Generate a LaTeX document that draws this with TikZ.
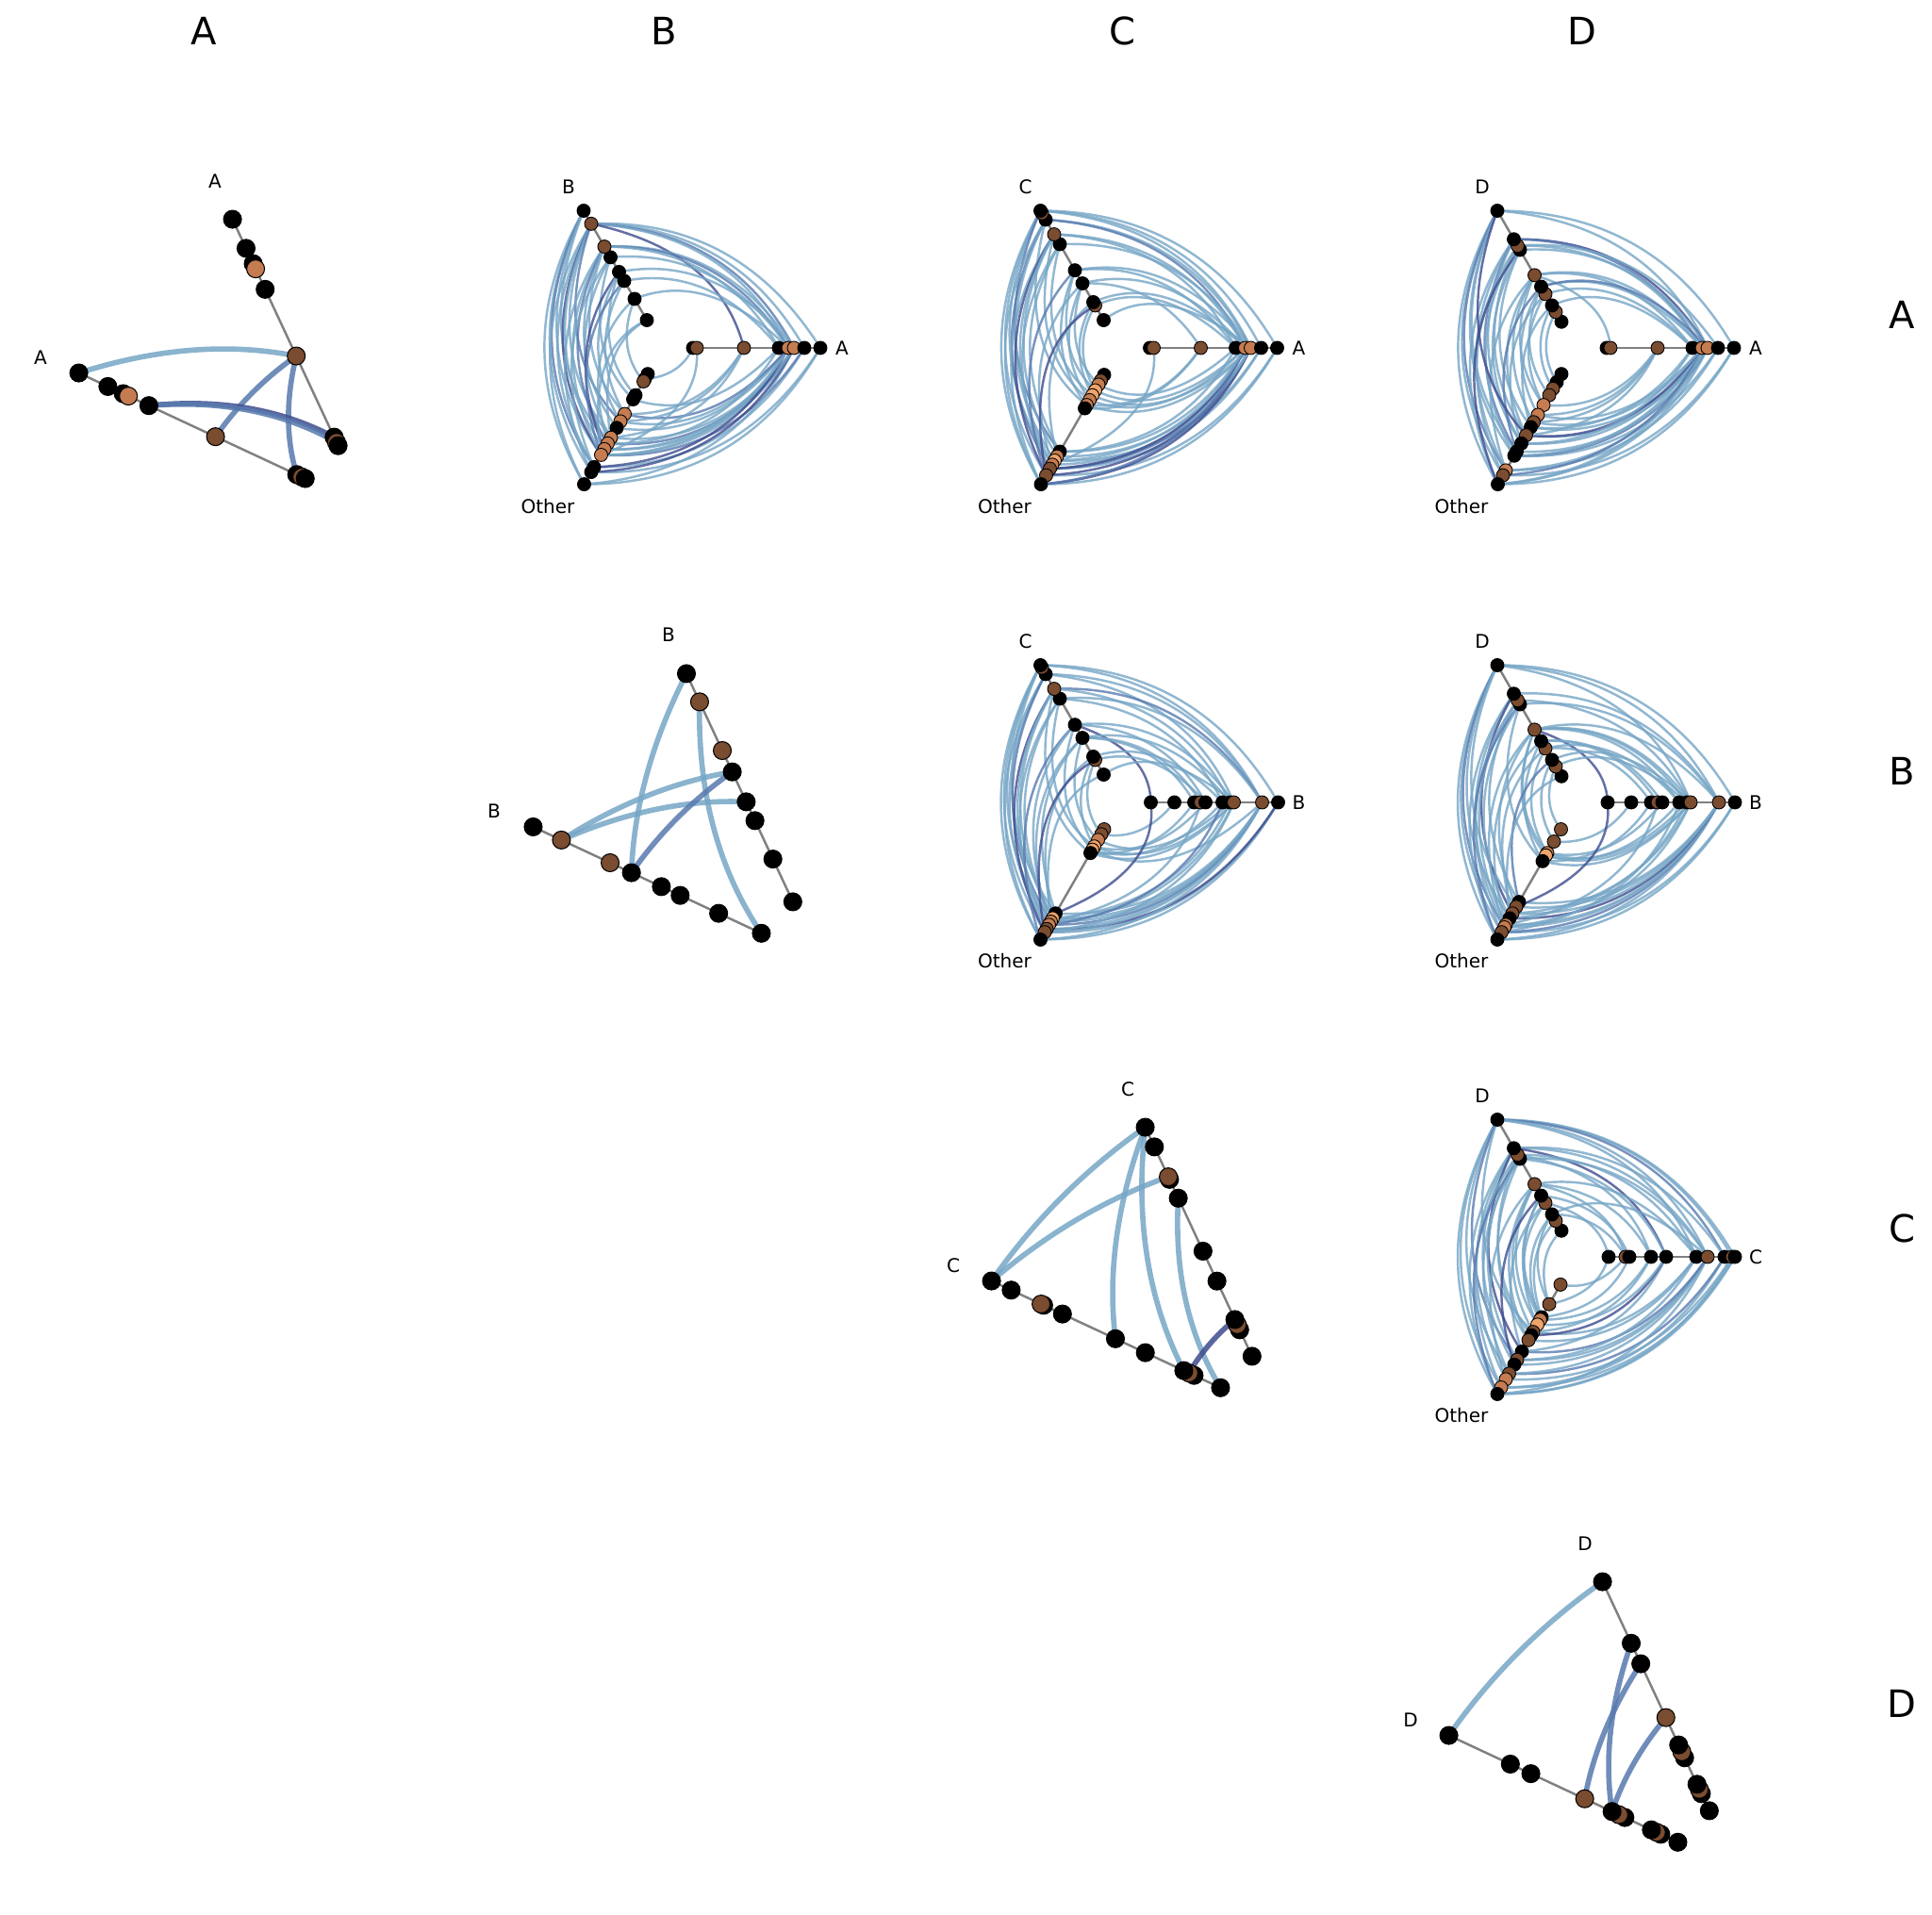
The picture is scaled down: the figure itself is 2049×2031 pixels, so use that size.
\documentclass[tikz,border=0pt]{standalone}
\usepackage{fontspec}
\setmainfont{DejaVu Sans}
\usetikzlibrary{calc}
\pgfdeclarelayer{bg}
\pgfdeclarelayer{axes}
\pgfdeclarelayer{edges}
\pgfsetlayers{bg,axes,edges,main}
\definecolor{kk}{RGB}{0,0,0}
\definecolor{bb}{RGB}{122,76,48}
\definecolor{oo}{RGB}{196,124,80}
\definecolor{ll}{RGB}{238,164,106}
\definecolor{eL}{RGB}{118,166,198}
\definecolor{eM}{RGB}{88,122,175}
\definecolor{eD}{RGB}{62,76,142}
\definecolor{axg}{RGB}{128,128,128}
\tikzset{
  hn/.style={circle,draw=black,line width=0.25pt,minimum size=1.4mm,inner sep=0pt},
  dn/.style={circle,draw=black,line width=0.3pt,minimum size=1.9mm,inner sep=0pt},
  axl/.style={draw=axg,line width=0.7pt},
  e1/.style={draw=eL,line width=0.7pt,draw opacity=0.8},
  e2/.style={draw=eM,line width=0.7pt,draw opacity=0.8},
  e3/.style={draw=eD,line width=0.7pt,draw opacity=0.8},
  d1/.style={draw=eL,line width=1.6pt,draw opacity=0.85},
  d2/.style={draw=eM,line width=1.6pt,draw opacity=0.85},
  d3/.style={draw=eD,line width=1.6pt,draw opacity=0.85},
  lab/.style={font=\fontsize{5.7}{6.5}\selectfont,inner sep=0pt},
  big/.style={font=\fontsize{11.4}{13}\selectfont,inner sep=0pt}
}
% hive edge: quadratic curve, control point at mean angle / mean radius
\newcommand\hedge[4]{%
  \pgfpointdiff{\pgfpointanchor{#2}{center}}{\pgfpointanchor{#3}{center}}%
  \pgfgetlastxy{\hxa}{\hya}%
  \pgfpointdiff{\pgfpointanchor{#2}{center}}{\pgfpointanchor{#4}{center}}%
  \pgfgetlastxy{\hxb}{\hyb}%
  \pgfmathsetmacro\hra{veclen(\hxa,\hya)}%
  \pgfmathsetmacro\hrb{veclen(\hxb,\hyb)}%
  \pgfmathsetmacro\hta{atan2(\hya,\hxa)}%
  \pgfmathsetmacro\htb{atan2(\hyb,\hxb)}%
  \pgfmathsetmacro\htm{\hta+(mod(\htb-\hta+540,360)-180)/2}%
  \pgfmathsetmacro\hrm{(\hra+\hrb)/2}%
  \pgfmathsetmacro\hcx{\hrm*cos(\htm)}%
  \pgfmathsetmacro\hcy{\hrm*sin(\htm)}%
  \pgfmathsetmacro\hax{(\hxa+2*\hcx)/3}%
  \pgfmathsetmacro\hay{(\hya+2*\hcy)/3}%
  \pgfmathsetmacro\hbx{(\hxb+2*\hcx)/3}%
  \pgfmathsetmacro\hby{(\hyb+2*\hcy)/3}%
  \draw[#1] (#3.center) .. controls ([shift={(\hax pt,\hay pt)}]#2) and ([shift={(\hbx pt,\hby pt)}]#2) .. (#4.center);%
}
\newcommand\hiveaxis[7]{%
  \coordinate (#1#2-in) at ($(#1)+(#3:#4)$);
  \coordinate (#1#2-out) at ($(#1)+(#3:#5)$);
  \begin{pgfonlayer}{axes}\draw[axl] (#1#2-in) -- (#1#2-out);\end{pgfonlayer}
  \foreach \rad/\col [count=\i] in #7 {\node[#6,fill=\col] (#1#2-\i) at ($(#1)+(#3:\rad)$) {};}
}
\newcommand\hiveedges[2]{%
  \begin{pgfonlayer}{edges}
  \foreach \u/\v/\s in #2 {\hedge{\s}{#1}{#1\u}{#1\v}}
  \end{pgfonlayer}
}
\newcommand\tripanel[8]{%
  \coordinate (#1) at (#2,#3);
  \hiveaxis{#1}{0}{0}{33}{168}{hn}{#6}
  \hiveaxis{#1}{1}{120}{33}{168}{hn}{#7}
  \hiveaxis{#1}{2}{240}{33}{168}{hn}{#8}
  \node[lab] (#1-L0) at ($(#1)+(190,0)$) {#4};
  \node[lab] (#1-L1) at ($(#1)+(-100,171)$) {#5};
  \node[lab] (#1-L2) at ($(#1)+(-122,-168)$) {Other};
}
\newcommand\dipanel[5]{%
  \coordinate (#1) at (#2,#3);
  \hiveaxis{#1}{t}{115}{69}{337}{dn}{#5}
  \hiveaxis{#1}{l}{155}{69}{337}{dn}{#5}
  \node[lab] (#1-Lt) at ($(#1)+(-161,346)$) {#4};
  \node[lab] (#1-Ll) at ($(#1)+(-346,159)$) {#4};
}
% node lists (radius/colour), inner to outer
\def\Alist{32/kk,36/bb,86/bb,123/kk,133/oo,139/oo,150/kk,167/kk}
\def\Blist{33/kk,58/kk,79/kk,86/bb,91/kk,109/kk,117/kk,121/bb,151/bb,168/kk}
\def\Clist{34/kk,52/bb,56/kk,79/kk,95/kk,127/kk,139/bb,157/kk,165/bb,168/kk}
\def\Dlist{32/kk,44/bb,52/kk,66/bb,75/kk,89/bb,120/kk,125/bb,133/kk,168/kk}
\def\ABb{34/kk,60/kk,82/kk,93/kk,111/kk,124/bb,152/bb,168/kk}
\def\ABo{32/kk,38/kk,41/bb,58/kk,63/kk,81/oo,90/oo,98/kk,110/oo,117/oo,124/oo,131/oo,146/kk,152/kk,167/kk}
\def\ACo{33/kk,40/bb,45/oo,52/ll,58/ll,64/oo,70/oo,74/kk,127/kk,133/oo,138/ll,143/oo,148/bb,156/bb,167/kk}
\def\ADo{32/kk,42/kk,50/bb,58/bb,70/oo,82/oo,91/bb,97/kk,107/bb,117/kk,127/kk,132/kk,150/oo,156/bb,167/kk}
\def\BCo{33/bb,39/bb,46/oo,54/ll,58/ll,62/kk,136/kk,142/ll,146/oo,150/oo,155/bb,159/bb,168/kk}
\def\BDo{33/bb,48/bb,62/oo,65/ll,72/kk,122/kk,128/bb,136/bb,142/kk,150/oo,153/oo,159/bb,168/kk}
\def\CDo{34/bb,58/bb,74/kk,77/oo,83/ll,92/bb,96/kk,102/bb,116/kk,126/bb,132/kk,143/bb,150/oo,160/oo,168/kk}
\def\AAn{82/kk,76/bb,72/kk,177/bb,255/kk,285/kk,279/oo,303/kk,337/kk}
\def\BBn{69/kk,119/kk,164/kk,186/kk,221/kk,246/bb,303/bb,336/kk}
\def\CCn{69/kk,100/kk,106/bb,112/kk,157/kk,192/kk,254/kk,276/kk,279/bb,314/kk,337/kk}
\def\DDn{69/kk,89/kk,94/bb,100/kk,131/kk,138/bb,146/kk,178/bb,241/kk,265/kk,337/kk}
% edge lists
\def\ABe{%
1-8/2-15/e1,1-8/2-14/e1,1-8/2-13/e2,1-8/2-12/e1,1-8/2-10/e1,%
1-7/2-15/e1,1-7/2-13/e1,1-7/2-12/e3,1-7/2-11/e1,1-7/2-9/e1,1-7/2-7/e2,%
1-6/2-14/e1,1-6/2-12/e1,1-6/2-10/e2,1-6/2-8/e1,1-6/2-6/e1,%
1-5/2-13/e1,1-5/2-9/e1,1-5/2-5/e1,1-4/2-11/e3,1-4/2-7/e1,1-4/2-4/e1,%
1-3/2-12/e2,1-3/2-6/e1,1-2/2-10/e1,1-2/2-3/e1,1-1/2-12/e1,1-1/2-9/e1,%
1-7/0-8/e1,1-7/0-7/e1,1-7/0-6/e2,1-7/0-5/e1,1-7/0-3/e3,1-6/0-6/e1,1-6/0-5/e2,1-6/0-4/e1,%
1-5/0-5/e1,1-4/0-6/e1,1-3/0-4/e1,1-2/0-5/e1,%
0-8/2-15/e1,0-8/2-14/e1,0-7/2-13/e1,0-7/2-12/e2,0-6/2-15/e1,0-6/2-14/e3,0-6/2-12/e1,%
0-6/2-11/e1,0-6/2-10/e2,0-6/2-9/e1,0-5/2-13/e3,0-5/2-12/e1,0-5/2-11/e1,0-5/2-8/e1,%
0-5/2-7/e1,0-5/2-6/e2,0-4/2-10/e1,0-4/2-5/e1,0-3/2-7/e1,0-3/2-9/e1,0-3/2-6/e1,%
0-2/2-12/e1,0-1/2-2/e1}
\def\ACe{%
1-10/2-15/e1,1-10/2-14/e1,1-10/2-12/e1,1-10/2-9/e2,1-8/2-15/e1,1-8/2-13/e2,1-8/2-11/e1,%
1-8/2-7/e1,1-7/2-15/e1,1-7/2-14/e3,1-7/2-12/e1,1-7/2-10/e1,1-7/2-6/e1,1-6/2-13/e1,%
1-6/2-9/e1,1-6/2-5/e1,1-5/2-14/e2,1-5/2-7/e1,1-5/2-4/e1,1-4/2-12/e1,1-4/2-6/e1,%
1-4/2-3/e1,1-3/2-10/e1,1-3/2-5/e1,1-2/2-4/e1,1-2/2-14/e3,%
1-10/0-8/e1,1-10/0-7/e1,1-10/0-6/e1,1-8/0-6/e1,1-8/0-5/e2,1-7/0-5/e1,1-7/0-4/e1,%
1-6/0-6/e1,1-5/0-4/e1,1-5/0-6/e1,1-4/0-3/e1,1-4/0-5/e1,1-3/0-5/e1,1-2/0-4/e1,1-1/0-6/e1,%
0-8/2-15/e1,0-8/2-14/e1,0-7/2-13/e1,0-7/2-11/e1,0-6/2-15/e3,0-6/2-14/e3,0-6/2-13/e2,%
0-6/2-12/e1,0-6/2-10/e1,0-6/2-7/e1,0-6/2-5/e1,0-5/2-15/e2,0-5/2-13/e3,0-5/2-11/e1,%
0-5/2-9/e1,0-5/2-6/e1,0-5/2-4/e1,0-4/2-9/e1,0-4/2-3/e1,0-3/2-8/e1,0-3/2-7/e1,0-2/2-12/e1}
\def\ADe{%
1-10/2-15/e1,1-10/2-14/e1,1-10/2-13/e2,1-10/2-12/e1,1-10/2-11/e1,1-9/2-15/e1,1-9/2-13/e1,%
1-9/2-11/e2,1-9/2-10/e1,1-8/2-14/e1,1-8/2-12/e1,1-8/2-9/e1,1-7/2-15/e3,1-7/2-10/e1,%
1-7/2-8/e1,1-6/2-13/e1,1-6/2-9/e1,1-6/2-7/e1,1-6/2-5/e1,1-5/2-11/e2,1-5/2-6/e1,%
1-5/2-4/e1,1-4/2-10/e1,1-4/2-5/e1,1-3/2-3/e1,1-3/2-8/e1,1-2/2-2/e1,1-10/2-9/e3,%
1-10/0-6/e1,1-10/0-8/e1,1-9/0-6/e3,1-9/0-5/e2,1-8/0-5/e1,1-8/0-7/e1,1-7/0-6/e1,%
1-6/0-5/e1,1-6/0-4/e1,1-6/0-2/e1,1-5/0-5/e1,1-5/0-6/e2,1-4/0-4/e1,1-3/0-4/e1,%
0-8/2-15/e1,0-8/2-14/e1,0-7/2-13/e1,0-7/2-12/e1,0-6/2-15/e1,0-6/2-13/e1,0-6/2-12/e2,%
0-6/2-11/e1,0-6/2-9/e1,0-6/2-8/e1,0-5/2-15/e1,0-5/2-14/e2,0-5/2-12/e1,0-5/2-10/e1,%
0-5/2-9/e3,0-5/2-7/e1,0-5/2-6/e1,0-4/2-10/e1,0-4/2-8/e1,0-3/2-9/e1,0-3/2-7/e1,%
0-3/2-6/e1,0-3/2-5/e1}
\def\BCe{%
1-10/2-13/e1,1-10/2-12/e1,1-10/2-10/e1,1-10/2-7/e1,1-8/2-13/e1,1-8/2-11/e1,1-8/2-9/e2,%
1-7/2-12/e3,1-7/2-10/e1,1-7/2-8/e1,1-7/2-6/e1,1-6/2-11/e1,1-6/2-8/e1,1-6/2-4/e1,%
1-5/2-13/e2,1-5/2-9/e1,1-5/2-5/e1,1-4/2-10/e1,1-4/2-7/e1,1-4/2-3/e1,1-3/2-8/e1,%
1-3/2-4/e1,1-2/2-2/e1,1-1/2-9/e1,1-2/2-12/e3,%
1-10/0-10/e1,1-10/0-9/e1,1-8/0-9/e1,1-8/0-8/e1,1-7/0-9/e2,1-7/0-7/e1,1-6/0-9/e1,%
1-6/0-6/e1,1-5/0-8/e1,1-5/0-5/e1,1-5/0-1/e3,1-4/0-7/e1,1-4/0-4/e1,1-4/0-3/e1,%
1-3/0-6/e1,1-2/0-5/e1,1-1/0-8/e1,%
0-10/2-13/e1,0-10/2-12/e1,0-10/2-11/e3,0-9/2-13/e1,0-9/2-12/e1,0-9/2-11/e1,0-9/2-10/e2,%
0-9/2-9/e1,0-9/2-8/e1,0-9/2-7/e1,0-9/2-5/e1,0-8/2-12/e1,0-8/2-9/e1,0-8/2-6/e1,%
0-8/2-4/e1,0-7/2-8/e1,0-7/2-3/e1,0-6/2-10/e2,0-6/2-5/e1,0-5/2-4/e1,0-4/2-9/e1,%
0-3/2-6/e1,0-2/2-2/e1,0-1/2-7/e3}
\def\BDe{%
1-10/2-13/e1,1-10/2-12/e1,1-10/2-11/e2,1-10/2-9/e1,1-10/2-7/e1,1-9/2-13/e1,1-9/2-11/e1,%
1-9/2-8/e3,1-8/2-12/e1,1-8/2-10/e1,1-8/2-6/e1,1-7/2-13/e2,1-7/2-9/e1,1-7/2-5/e1,%
1-6/2-11/e1,1-6/2-7/e1,1-6/2-4/e1,1-6/2-3/e1,1-5/2-10/e1,1-5/2-5/e1,1-4/2-8/e1,%
1-4/2-3/e1,1-3/2-6/e2,1-3/2-2/e1,1-2/2-1/e1,1-1/2-9/e1,%
1-10/0-10/e1,1-10/0-9/e1,1-10/0-8/e1,1-9/0-9/e1,1-8/0-8/e1,1-7/0-9/e1,1-6/0-9/e1,%
1-6/0-8/e1,1-6/0-7/e1,1-6/0-6/e1,1-6/0-1/e3,1-5/0-5/e1,1-5/0-4/e1,1-4/0-6/e1,%
1-4/0-3/e1,1-3/0-8/e1,1-2/0-7/e1,%
0-10/2-13/e1,0-10/2-12/e1,0-9/2-13/e1,0-9/2-12/e2,0-9/2-11/e1,0-9/2-10/e1,0-9/2-9/e3,%
0-9/2-8/e1,0-9/2-7/e1,0-9/2-6/e1,0-8/2-11/e1,0-8/2-8/e1,0-8/2-5/e1,0-8/2-4/e1,%
0-7/2-9/e1,0-7/2-3/e1,0-6/2-12/e1,0-6/2-4/e1,0-5/2-3/e1,0-4/2-10/e1,0-3/2-5/e1,%
0-2/2-2/e1,0-1/2-7/e3}
\def\CDe{%
1-10/2-15/e1,1-10/2-14/e1,1-10/2-12/e1,1-10/2-10/e2,1-10/2-6/e1,1-9/2-15/e1,1-9/2-13/e1,%
1-9/2-11/e1,1-9/2-9/e3,1-8/2-14/e1,1-8/2-10/e1,1-8/2-7/e1,1-7/2-15/e2,1-7/2-12/e1,%
1-7/2-8/e1,1-6/2-13/e1,1-6/2-8/e1,1-6/2-5/e1,1-6/2-6/e1,1-5/2-11/e3,1-5/2-4/e1,%
1-5/2-3/e1,1-4/2-9/e1,1-4/2-5/e1,1-3/2-2/e1,1-3/2-4/e1,1-2/2-3/e1,1-1/2-2/e1,%
1-10/0-10/e1,1-10/0-9/e1,1-10/0-8/e2,1-10/0-7/e1,1-10/0-6/e1,1-9/0-8/e1,1-9/0-7/e1,%
1-9/0-5/e3,1-8/0-6/e1,1-8/0-4/e1,1-7/0-7/e1,1-7/0-5/e1,1-6/0-6/e1,1-6/0-4/e1,%
1-6/0-2/e1,1-5/0-3/e1,1-4/0-1/e1,1-3/0-2/e1,1-3/0-7/e1,%
0-10/2-15/e1,0-10/2-14/e1,0-9/2-15/e1,0-9/2-13/e1,0-8/2-14/e1,0-8/2-12/e2,0-7/2-15/e1,%
0-7/2-12/e1,0-7/2-11/e1,0-7/2-10/e1,0-7/2-9/e2,0-6/2-10/e1,0-6/2-8/e1,0-6/2-6/e1,%
0-5/2-9/e1,0-5/2-7/e3,0-5/2-5/e1,0-4/2-6/e1,0-4/2-4/e1,0-3/2-3/e1,0-2/2-1/e1,0-1/2-2/e1}
\def\AAe{l-9/t-4/d1,t-4/l-4/d2,t-4/l-1/d2,l-5/t-1/d3,l-5/t-2/d2}
\def\BBe{t-8/l-5/d1,t-7/l-1/d1,l-7/t-5/d1,l-7/t-4/d1,l-5/t-5/d2}
\def\CCe{l-11/t-11/d1,l-11/t-9/d1,t-11/l-6/d1,t-11/l-4/d1,t-7/l-1/d1,t-4/l-3/d3}
\def\DDe{l-11/t-11/d1,l-8/t-9/d2,l-7/t-10/d2,l-7/t-8/d2}
\begin{document}
\begin{tikzpicture}[x=0.1mm,y=0.1mm]
\useasboundingbox (0,0) rectangle (2049,2031);
\begin{pgfonlayer}{bg}\fill[white] (0,0) rectangle (2049,2031);\end{pgfonlayer}
% headers
\node[big] (hA) at (216,1998) {A};
\node[big] (hB) at (704,1998) {B};
\node[big] (hC) at (1190,1998) {C};
\node[big] (hD) at (1678,1998) {D};
\node[big] (rA) at (2017,1697) {A};
\node[big] (rB) at (2017,1213) {B};
\node[big] (rC) at (2017,728) {C};
\node[big] (rD) at (2017,224) {D};
% diagonal panels
\dipanel{AA}{389}{1493}{A}{\AAn}
\hiveedges{AA}{\AAe}
\dipanel{BB}{870}{1012}{B}{\BBn}
\hiveedges{BB}{\BBe}
\dipanel{CC}{1357}{530}{C}{\CCn}
\hiveedges{CC}{\CCe}
\dipanel{DD}{1842}{48}{D}{\DDn}
\hiveedges{DD}{\DDe}
% three-axis panels
\tripanel{AB}{703}{1662}{A}{B}{\Alist}{\ABb}{\ABo}
\hiveedges{AB}{\ABe}
\tripanel{AC}{1187.5}{1662}{A}{C}{\Alist}{\Clist}{\ACo}
\hiveedges{AC}{\ACe}
\tripanel{AD}{1672}{1662}{A}{D}{\Alist}{\Dlist}{\ADo}
\hiveedges{AD}{\ADe}
\tripanel{BC}{1187.5}{1180}{B}{C}{\Blist}{\Clist}{\BCo}
\hiveedges{BC}{\BCe}
\tripanel{BD}{1672}{1180}{B}{D}{\Blist}{\Dlist}{\BDo}
\hiveedges{BD}{\BDe}
\tripanel{CD}{1672}{698}{C}{D}{\Clist}{\Dlist}{\CDo}
\hiveedges{CD}{\CDe}
\end{tikzpicture}
\end{document}
